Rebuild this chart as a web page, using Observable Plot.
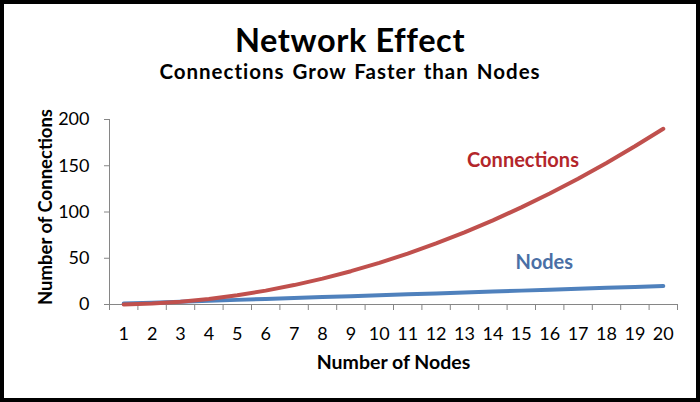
<!DOCTYPE html>
<html><head><meta charset="utf-8">
<script src="https://cdn.jsdelivr.net/npm/d3@7"></script>
<script src="https://cdn.jsdelivr.net/npm/@observablehq/plot@0.6"></script>
<style>
html,body{margin:0;padding:0;background:#fff;}
#chart{position:relative;width:700px;height:402px;overflow:hidden;font-family:Lato,sans-serif;background:#fff;}
#frame{position:absolute;left:0;top:0;width:700px;height:402px;box-sizing:border-box;border:4px solid #000;pointer-events:none;}
.t{position:absolute;left:0;width:700px;text-align:center;line-height:1;font-weight:700;color:#000;white-space:nowrap;}
#title{font-size:32.5px;top:23.5px;letter-spacing:0.6px;}
#subtitle{font-size:20.5px;top:61px;letter-spacing:1px;word-spacing:2px;}
#plot{position:absolute;left:0;top:0;}
</style></head><body>
<div id="chart">
  <div id="plot"></div>
  <div class="t" id="title">Network Effect</div>
  <div class="t" id="subtitle">Connections Grow Faster than Nodes</div>
  <div id="frame"></div>
</div>
<script>
// Categories (number of nodes on the x axis)
const nodeCategories = [1,2,3,4,5,6,7,8,9,10,11,12,13,14,15,16,17,18,19,20];
// Series values
const connectionsSeries = [0,1,3,6,10,15,21,28,36,45,55,66,78,91,105,120,136,153,171,190];
const nodesSeries = [1,2,3,4,5,6,7,8,9,10,11,12,13,14,15,16,17,18,19,20];
// Tick labels
const yTickValues = [0,50,100,150,200];
// Series label annotations (data coordinates)
const seriesNames = ["Connections","Nodes"];
const labelX = [15.06, 15.81];
const labelY = [156, 45.2];
const seriesColors = ["#C0504D","#4F81BD"];
const labelColors = ["#B3262B","#4A6FA5"];

const rows = nodeCategories.map((n, i) => ({n, connections: connectionsSeries[i], nodes: nodesSeries[i]}));
const labels = seriesNames.map((name, i) => ({name, x: labelX[i], y: labelY[i], color: labelColors[i]}));
const boundaries = [nodeCategories[0] - 0.5, ...nodeCategories.map(n => n + 0.5)];

const chart = Plot.plot({
  width: 700,
  height: 402,
  marginLeft: 109,
  marginRight: 23,
  marginTop: 119,
  marginBottom: 98,
  x: {type: "linear", domain: [boundaries[0], boundaries[boundaries.length - 1]]},
  y: {domain: [0, 200]},
  style: {fontFamily: "Lato, sans-serif", background: "transparent"},
  marks: [
    Plot.ruleY([0], {stroke: "#868686", strokeWidth: 1}),
    Plot.ruleX([boundaries[0]], {stroke: "#868686", strokeWidth: 1}),
    Plot.axisY({ticks: yTickValues, tickSize: 5, tickPadding: 15, fontSize: 18, stroke: "#868686", fill: "#000", label: null}),
    Plot.axisX({ticks: boundaries, tickSize: 6, stroke: "#868686", tickFormat: () => "", label: null}),
    Plot.axisX({ticks: nodeCategories, tickSize: 0, tickPadding: 22.5, fontSize: 18, fill: "#000", tickFormat: d => String(d), label: null}),
    Plot.line(rows, {x: "n", y: "nodes", stroke: seriesColors[1], strokeWidth: 4, strokeLinecap: "round", strokeLinejoin: "round"}),
    Plot.line(rows, {x: "n", y: "connections", stroke: seriesColors[0], strokeWidth: 4, strokeLinecap: "round", strokeLinejoin: "round"}),
    Plot.text(labels, {x: "x", y: "y", text: "name", fill: "color", fontSize: 20, fontWeight: "bold"}),
    Plot.text(["Number of Connections"], {frameAnchor: "left", textAnchor: "middle", lineAnchor: "middle", rotate: -90, dx: -63.5, dy: -5, fontSize: 18.5, fontWeight: "bold", fill: "#000"}),
    Plot.text(["Number of Nodes"], {frameAnchor: "bottom", textAnchor: "middle", lineAnchor: "middle", dy: 58.5, fontSize: 19.5, fontWeight: "bold", fill: "#000"})
  ]
});
document.getElementById("plot").appendChild(chart);
</script>
</body></html>
